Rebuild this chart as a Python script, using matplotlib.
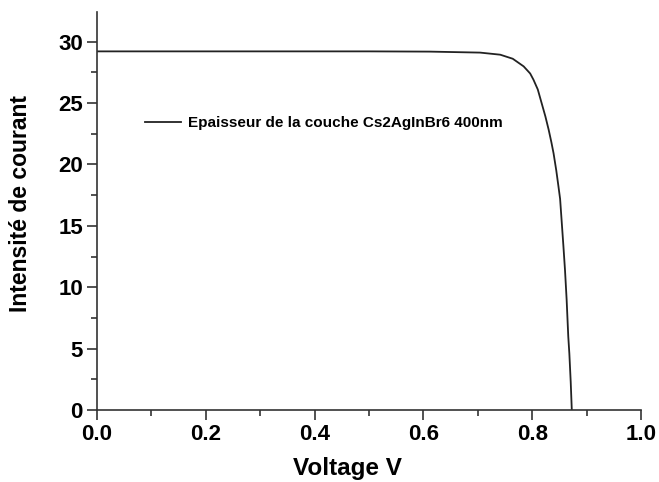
import matplotlib
matplotlib.use("Agg")
import matplotlib.pyplot as plt
from matplotlib.ticker import MultipleLocator

# J-V curve
voltage = [0.0, 0.10, 0.20, 0.30, 0.40, 0.50, 0.612, 0.704, 0.741, 0.764, 0.784,
           0.796, 0.802, 0.810, 0.817, 0.824, 0.830, 0.835, 0.839, 0.844, 0.848,
           0.851, 0.854, 0.857, 0.860, 0.863, 0.866, 0.868, 0.8705, 0.8725]
current = [29.2, 29.2, 29.2, 29.2, 29.2, 29.2, 29.18, 29.1, 28.93, 28.6, 27.98,
           27.4, 26.9, 26.1, 25.0, 23.9, 22.82, 21.8, 20.9, 19.5, 18.2,
           17.2, 15.3, 13.4, 11.4, 9.0, 6.0, 4.6, 2.3, 0.0]
series_label = "Epaisseur de la couche Cs2AgInBr6 400nm"

plt.rcParams['font.family'] = ['Liberation Sans', 'DejaVu Sans']

fig = plt.figure(figsize=(6.59, 4.82), dpi=100)
ax = fig.add_axes([0.147, 0.149, 0.826, 0.826])

ax.plot(voltage, current, color='#222222', lw=1.3, label=series_label)

ax.set_xlim(0, 1.0)
ax.set_ylim(0, 32.4)
ax.xaxis.set_major_locator(MultipleLocator(0.2))
ax.xaxis.set_minor_locator(MultipleLocator(0.1))
ax.yaxis.set_major_locator(MultipleLocator(5))
ax.yaxis.set_minor_locator(MultipleLocator(2.5))
ax.xaxis.set_major_formatter(plt.FuncFormatter(lambda v, p: f"{v:.1f}"))

for s in ['top', 'right']:
    ax.spines[s].set_visible(False)
for s in ['left', 'bottom']:
    ax.spines[s].set_color('#333333')
    ax.spines[s].set_linewidth(1.2)

ax.tick_params(which='major', direction='out', length=7, width=1.2, color='#333333',
               labelsize=16, pad=3)
ax.tick_params(which='minor', direction='out', length=4, width=1.2, color='#333333')
for lab in ax.get_xticklabels() + ax.get_yticklabels():
    lab.set_fontweight('bold')

ax.set_xlabel("Voltage V", fontsize=17.5, fontweight='bold')
ax.set_ylabel("Intensité de courant", fontsize=16.5, fontweight='bold')
ax.xaxis.set_label_coords(0.461, -0.118)
ax.yaxis.set_label_coords(-0.119, 0.52)

ax.legend(loc='center left', bbox_to_anchor=(0.088, 0.721), frameon=False,
          borderpad=0, borderaxespad=0, handlelength=2.4, handletextpad=0.45,
          prop={'size': 11, 'weight': 'bold'})

fig.savefig("out.png", dpi=100)
